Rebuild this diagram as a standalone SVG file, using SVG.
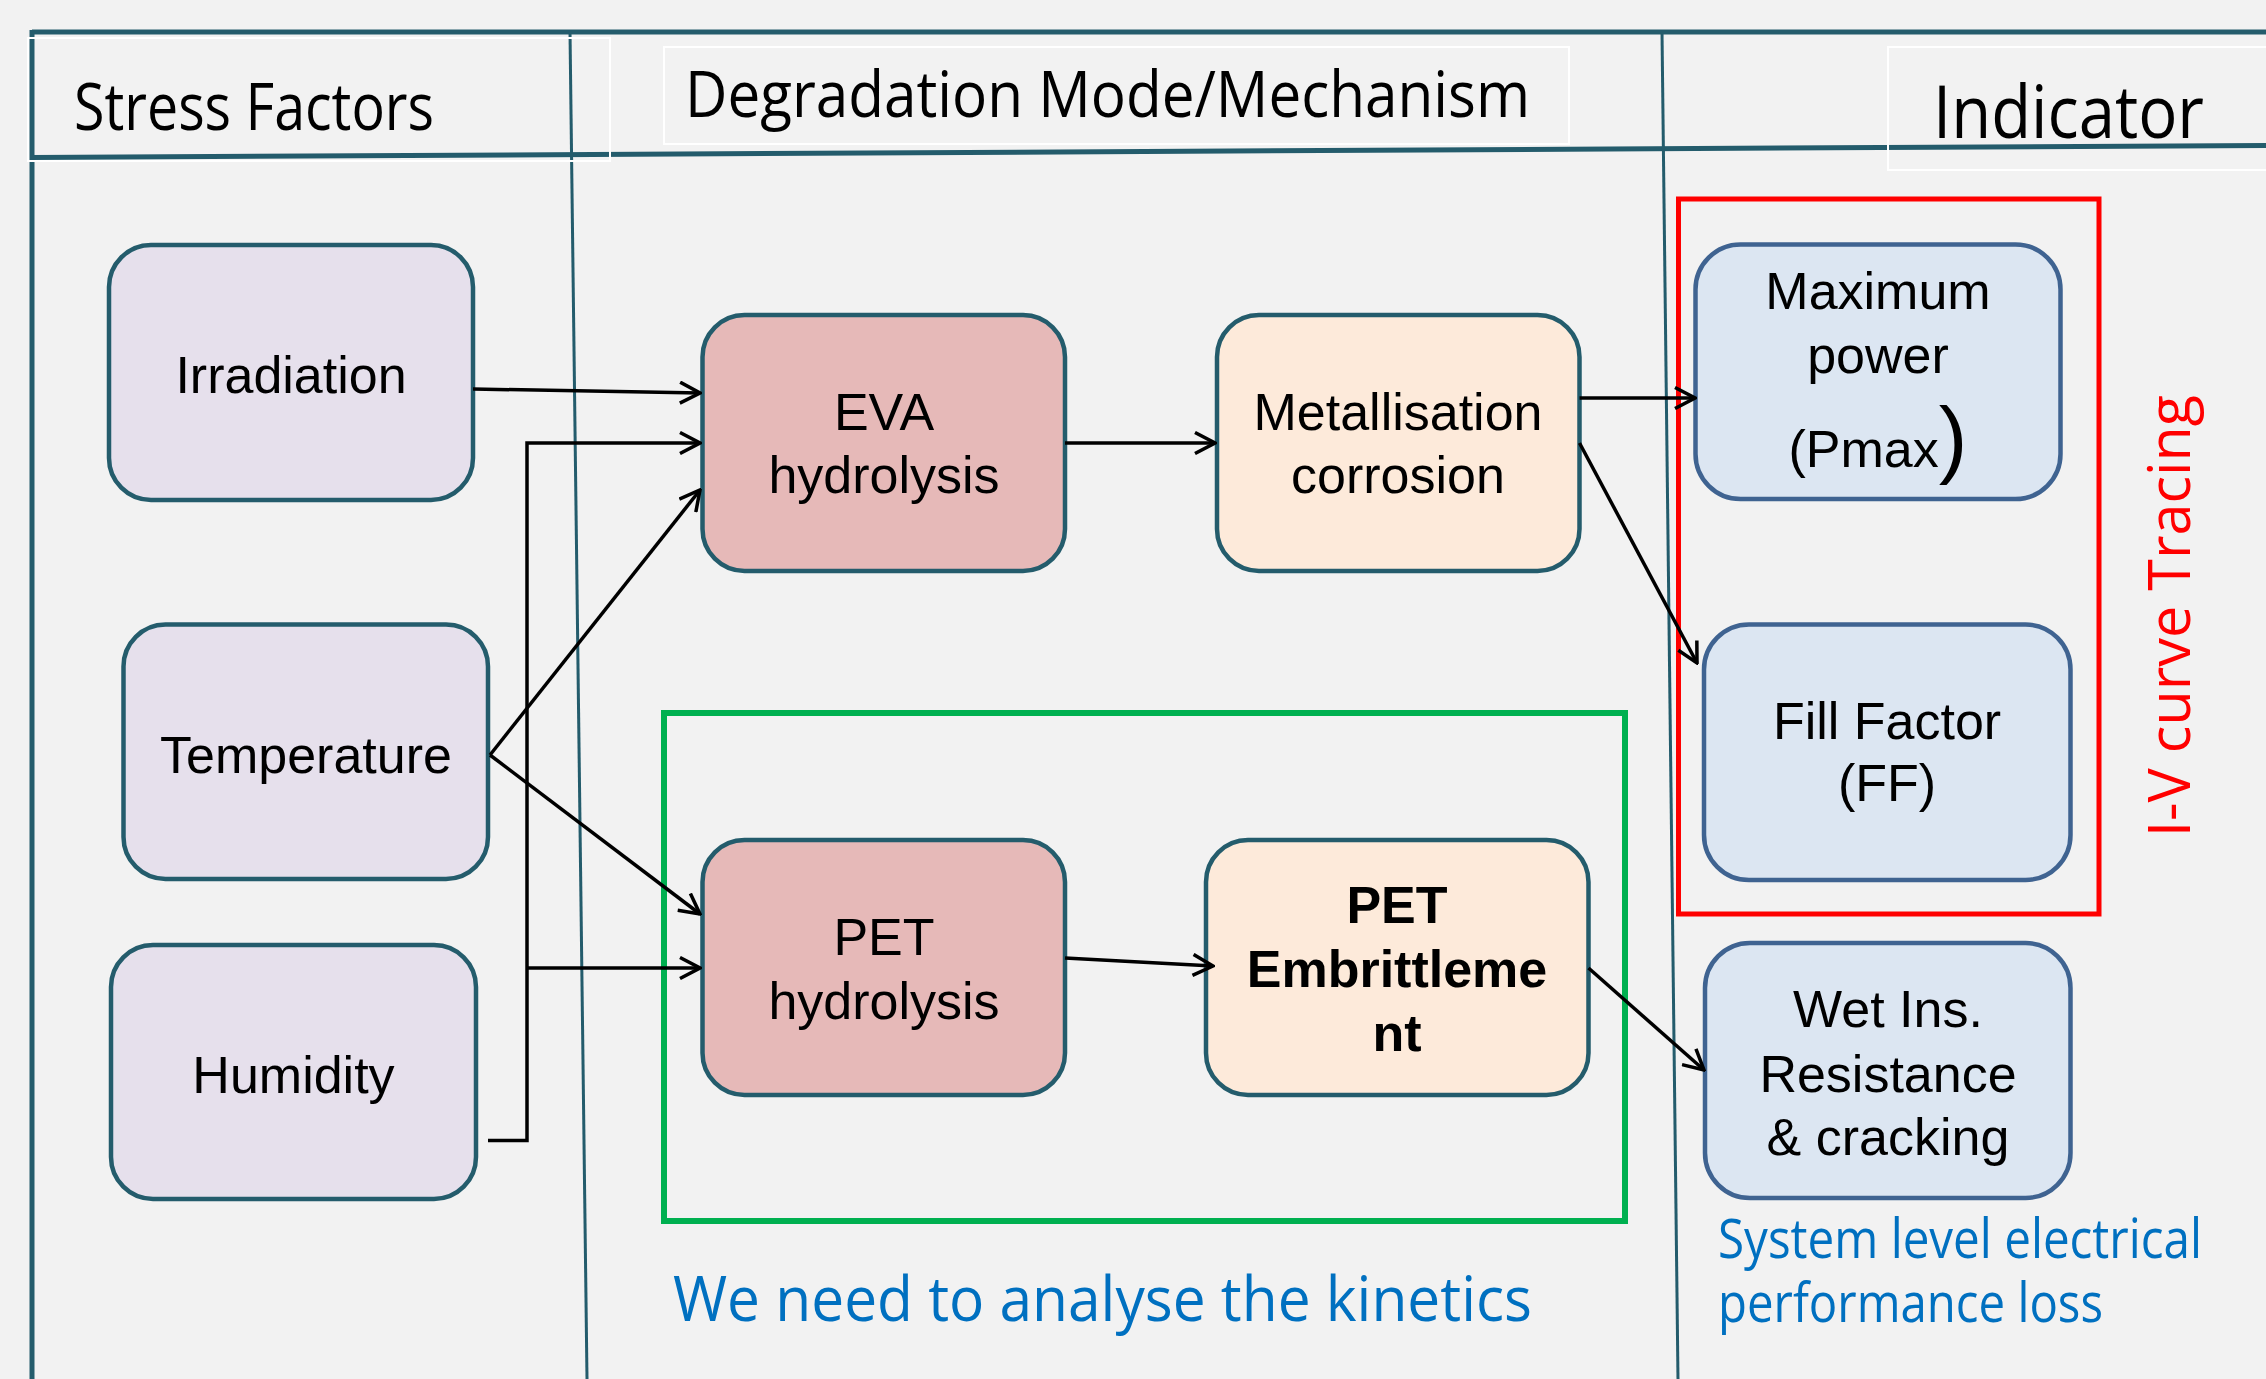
<svg xmlns="http://www.w3.org/2000/svg" width="2266" height="1379" viewBox="0 0 2266 1379">
<defs>
<style>
.frame{stroke:#245C6C;fill:none}
.wbox{fill:none;stroke:#FFFFFF;stroke-width:2}
.hdr{font-family:"Open Sans","Noto Sans",sans-serif;fill:#000}
.n text{font-family:"Liberation Sans",Arial,sans-serif;font-size:52px;fill:#000;text-anchor:middle}
.sf rect{fill:#E6E0EC;stroke:#245C6C;stroke-width:4.5}
.hy rect{fill:#E6B9B8;stroke:#245C6C;stroke-width:4.5}
.mc rect{fill:#FDEADA;stroke:#245C6C;stroke-width:4.5}
.ind rect{fill:#DCE6F2;stroke:#3F6391;stroke-width:4.5}
.c path{fill:none;stroke:#000;stroke-width:3.5}
.blue{font-family:"Open Sans","Noto Sans",sans-serif;fill:#0070C0}
</style>
<marker id="ah" viewBox="0 0 24 24" refX="22" refY="12" markerWidth="24" markerHeight="24" markerUnits="userSpaceOnUse" orient="auto">
<path d="M2,1.5 L22,12 L2,22.5" fill="none" stroke="#000" stroke-width="3.5"/>
</marker>
</defs>
<rect width="2266" height="1379" fill="#F2F2F2"/>

<g id="frame">
<line class="frame" x1="32" y1="32" x2="2266" y2="32" stroke-width="5"/>
<line class="frame" x1="32" y1="30" x2="32" y2="1379" stroke-width="5"/>
<line class="frame" x1="32" y1="157.5" x2="2266" y2="145.5" stroke-width="5"/>
<line class="frame" x1="570" y1="32" x2="587" y2="1379" stroke-width="3"/>
<line class="frame" x1="1662" y1="32" x2="1678" y2="1379" stroke-width="3"/>
<rect class="wbox" x="28" y="38" width="582" height="123"/>
<rect class="wbox" x="664" y="47" width="905" height="97"/>
<rect class="wbox" x="1888" y="47" width="390" height="123"/>
<text class="hdr" x="74" y="130" font-size="66" textLength="360" lengthAdjust="spacingAndGlyphs">Stress Factors</text>
<text class="hdr" x="685" y="117" font-size="64" textLength="845" lengthAdjust="spacingAndGlyphs">Degradation Mode/Mechanism</text>
<text class="hdr" x="1933" y="138" font-size="74" textLength="271" lengthAdjust="spacingAndGlyphs">Indicator</text>
</g>

<g id="highlight-boxes">
<rect x="664" y="713" width="961" height="508" fill="none" stroke="#00B050" stroke-width="6"/>
<rect x="1678.5" y="199" width="420.5" height="715" fill="none" stroke="#FF0000" stroke-width="5"/>
</g>

<g id="irradiation" class="n sf">
<rect x="109" y="245" width="364" height="255" rx="42"/>
<text x="291" y="393">Irradiation</text>
</g>
<g id="temperature" class="n sf">
<rect x="123.5" y="624.5" width="364.5" height="254.5" rx="42"/>
<text x="306" y="773">Temperature</text>
</g>
<g id="humidity" class="n sf">
<rect x="111" y="945" width="365" height="254" rx="42"/>
<text x="293.5" y="1093">Humidity</text>
</g>

<g id="eva-hydrolysis" class="n hy">
<rect x="702.5" y="315" width="362.5" height="256" rx="42"/>
<text x="884" y="430">EVA</text>
<text x="884" y="493">hydrolysis</text>
</g>
<g id="pet-hydrolysis" class="n hy">
<rect x="702.5" y="840" width="362.5" height="255" rx="42"/>
<text x="884" y="955">PET</text>
<text x="884" y="1019">hydrolysis</text>
</g>
<g id="metallisation-corrosion" class="n mc">
<rect x="1217" y="315" width="362.5" height="256" rx="42"/>
<text x="1398" y="430">Metallisation</text>
<text x="1398" y="493">corrosion</text>
</g>
<g id="pet-embrittlement" class="n mc">
<rect x="1206" y="840" width="382.5" height="255" rx="42"/>
<text x="1397" y="922.5" font-weight="bold">PET</text>
<text x="1397" y="987" font-weight="bold">Embrittleme</text>
<text x="1397" y="1051" font-weight="bold">nt</text>
</g>

<g id="maximum-power" class="n ind">
<rect x="1695.5" y="244.5" width="365" height="254.5" rx="45"/>
<text x="1878" y="309">Maximum</text>
<text x="1878" y="373">power</text>
<text x="1878" y="467"><tspan>(Pmax</tspan><tspan font-size="86">)</tspan></text>
</g>
<g id="fill-factor" class="n ind">
<rect x="1704" y="624.5" width="366.5" height="255.5" rx="45"/>
<text x="1887" y="739">Fill Factor</text>
<text x="1887" y="801">(FF)</text>
</g>
<g id="wet-insulation" class="n ind">
<rect x="1705" y="943" width="365.5" height="255" rx="45"/>
<text x="1888" y="1027">Wet Ins.</text>
<text x="1888" y="1092">Resistance</text>
<text x="1888" y="1155">&amp; cracking</text>
</g>

<g id="connectors" class="c">
<path d="M473,389 L700,393" marker-end="url(#ah)"/>
<path d="M488,1140.5 H527 V443 H700" marker-end="url(#ah)"/>
<path d="M527,968 H700" marker-end="url(#ah)"/>
<path d="M490,755 L700,490" marker-end="url(#ah)"/>
<path d="M490,755 L700,914" marker-end="url(#ah)"/>
<path d="M1065,443 H1215" marker-end="url(#ah)"/>
<path d="M1065,958 L1213,966" marker-end="url(#ah)"/>
<path d="M1579.5,398 H1695" marker-end="url(#ah)"/>
<path d="M1579.5,443 L1697,663" marker-end="url(#ah)"/>
<path d="M1588.5,968 L1704,1070" marker-end="url(#ah)"/>
</g>

<g id="annotations">
<text class="blue" x="673" y="1321" font-size="63" textLength="859" lengthAdjust="spacingAndGlyphs">We need to analyse the kinetics</text>
<text class="blue" x="1718" y="1258" font-size="54" textLength="484" lengthAdjust="spacingAndGlyphs">System level electrical</text>
<text class="blue" x="1718" y="1322" font-size="54" textLength="385" lengthAdjust="spacingAndGlyphs">performance loss</text>
<text x="2190" y="837" transform="rotate(-90 2190 837)" font-family="Open Sans, Noto Sans, sans-serif" font-size="59" fill="#FF0000" textLength="442" lengthAdjust="spacingAndGlyphs">I-V curve Tracing</text>
</g>
</svg>
